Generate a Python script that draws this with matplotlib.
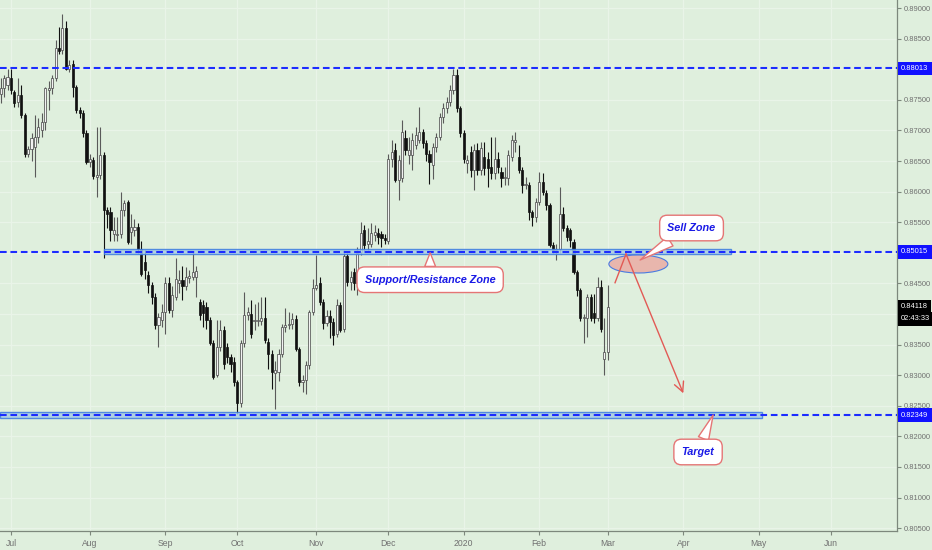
import matplotlib
matplotlib.use('Agg')
import matplotlib.pyplot as plt
import matplotlib.transforms as mtransforms
from matplotlib.patches import Rectangle, Ellipse
from matplotlib.ticker import MultipleLocator, FuncFormatter
import numpy as np
import pandas as pd

# daily candles, 26 Jun 2019 -> 2 Mar 2020 (weekdays)
opens = [0.8760, 0.8769, 0.8775, 0.8786, 0.8763, 0.8747, 0.8758, 0.8725, 0.8662, 0.8670,
         0.8673, 0.8690, 0.8700, 0.8714, 0.8766, 0.8769, 0.8785, 0.8834, 0.8831, 0.8867,
         0.8801, 0.8809, 0.8771, 0.8733, 0.8728, 0.8695, 0.8649, 0.8652, 0.8624, 0.8627,
         0.8660, 0.8570, 0.8567, 0.8531, 0.8529, 0.8531, 0.8570, 0.8583, 0.8534, 0.8537,
         0.8542, 0.8507, 0.8485, 0.8464, 0.8447, 0.8428, 0.8382, 0.8390, 0.8404, 0.8450,
         0.8406, 0.8428, 0.8450, 0.8456, 0.8445, 0.8459, 0.8461, 0.8461, 0.8420, 0.8415,
         0.8412, 0.8390, 0.8352, 0.8300, 0.8346, 0.8374, 0.8346, 0.8330, 0.8321, 0.8289,
         0.8254, 0.8352, 0.8398, 0.8400, 0.8388, 0.8389, 0.8388, 0.8394, 0.8355, 0.8335,
         0.8303, 0.8305, 0.8335, 0.8379, 0.8382, 0.8384, 0.8392, 0.8343, 0.8289, 0.8292,
         0.8317, 0.8404, 0.8442, 0.8450, 0.8420, 0.8385, 0.8396, 0.8387, 0.8368, 0.8415,
         0.8376, 0.8494, 0.8453, 0.8469, 0.8450, 0.8502, 0.8537, 0.8515, 0.8515, 0.8529,
         0.8532, 0.8530, 0.8524, 0.8520, 0.8654, 0.8668, 0.8619, 0.8622, 0.8687, 0.8660,
         0.8660, 0.8676, 0.8684, 0.8698, 0.8679, 0.8662, 0.8644, 0.8673, 0.8690, 0.8722,
         0.8736, 0.8747, 0.8766, 0.8790, 0.8736, 0.8695, 0.8646, 0.8665, 0.8635, 0.8668,
         0.8635, 0.8657, 0.8654, 0.8641, 0.8630, 0.8654, 0.8632, 0.8622, 0.8622, 0.8657,
         0.8681, 0.8657, 0.8635, 0.8611, 0.8611, 0.8567, 0.8559, 0.8583, 0.8616, 0.8597,
         0.8578, 0.8513, 0.8504, 0.8507, 0.8564, 0.8540, 0.8537, 0.8518, 0.8469, 0.8439,
         0.8393, 0.8393, 0.8428, 0.8401, 0.8393, 0.8444, 0.8327, 0.8338]
highs = [0.8785, 0.8790, 0.8801, 0.8801, 0.8766, 0.8786, 0.8774, 0.8728, 0.8675, 0.8695,
         0.8725, 0.8720, 0.8728, 0.8771, 0.8780, 0.8790, 0.8848, 0.8869, 0.8891, 0.8878,
         0.8815, 0.8815, 0.8774, 0.8739, 0.8733, 0.8700, 0.8662, 0.8657, 0.8706, 0.8706,
         0.8665, 0.8575, 0.8575, 0.8559, 0.8559, 0.8600, 0.8586, 0.8586, 0.8564, 0.8556,
         0.8548, 0.8520, 0.8505, 0.8470, 0.8453, 0.8434, 0.8401, 0.8417, 0.8461, 0.8461,
         0.8445, 0.8491, 0.8472, 0.8478, 0.8477, 0.8472, 0.8502, 0.8478, 0.8425, 0.8423,
         0.8420, 0.8395, 0.8357, 0.8390, 0.8390, 0.8380, 0.8352, 0.8335, 0.8330, 0.8292,
         0.8357, 0.8436, 0.8412, 0.8423, 0.8417, 0.8420, 0.8428, 0.8428, 0.8360, 0.8341,
         0.8324, 0.8343, 0.8384, 0.8410, 0.8403, 0.8401, 0.8399, 0.8346, 0.8300, 0.8324,
         0.8406, 0.8458, 0.8496, 0.8460, 0.8425, 0.8406, 0.8406, 0.8393, 0.8425, 0.8420,
         0.8505, 0.8500, 0.8470, 0.8475, 0.8510, 0.8551, 0.8545, 0.8540, 0.8548, 0.8545,
         0.8540, 0.8535, 0.8530, 0.8662, 0.8684, 0.8680, 0.8660, 0.8717, 0.8700, 0.8690,
         0.8695, 0.8706, 0.8739, 0.8703, 0.8684, 0.8668, 0.8680, 0.8695, 0.8728, 0.8745,
         0.8755, 0.8775, 0.8801, 0.8801, 0.8740, 0.8700, 0.8660, 0.8675, 0.8678, 0.8680,
         0.8681, 0.8681, 0.8665, 0.8690, 0.8690, 0.8665, 0.8640, 0.8640, 0.8668, 0.8692,
         0.8698, 0.8676, 0.8640, 0.8624, 0.8615, 0.8570, 0.8590, 0.8632, 0.8630, 0.8602,
         0.8582, 0.8518, 0.8515, 0.8608, 0.8575, 0.8545, 0.8540, 0.8522, 0.8472, 0.8442,
         0.8400, 0.8433, 0.8433, 0.8433, 0.8461, 0.8455, 0.8393, 0.8447]
lows = [0.8744, 0.8755, 0.8766, 0.8760, 0.8739, 0.8739, 0.8720, 0.8657, 0.8657, 0.8650,
        0.8624, 0.8680, 0.8690, 0.8700, 0.8733, 0.8760, 0.8780, 0.8825, 0.8825, 0.8798,
        0.8795, 0.8755, 0.8728, 0.8720, 0.8690, 0.8645, 0.8640, 0.8620, 0.8591, 0.8620,
        0.8491, 0.8540, 0.8520, 0.8520, 0.8520, 0.8525, 0.8560, 0.8515, 0.8515, 0.8527,
        0.8500, 0.8462, 0.8458, 0.8434, 0.8417, 0.8376, 0.8346, 0.8379, 0.8368, 0.8401,
        0.8395, 0.8423, 0.8434, 0.8423, 0.8439, 0.8450, 0.8456, 0.8428, 0.8390, 0.8379,
        0.8376, 0.8349, 0.8294, 0.8297, 0.8340, 0.8310, 0.8320, 0.8305, 0.8283, 0.8237,
        0.8248, 0.8346, 0.8390, 0.8360, 0.8374, 0.8380, 0.8382, 0.8352, 0.8310, 0.8278,
        0.8245, 0.8290, 0.8330, 0.8370, 0.8376, 0.8376, 0.8340, 0.8283, 0.8273, 0.8270,
        0.8310, 0.8398, 0.8439, 0.8415, 0.8376, 0.8380, 0.8360, 0.8349, 0.8362, 0.8370,
        0.8370, 0.8445, 0.8440, 0.8439, 0.8431, 0.8497, 0.8504, 0.8505, 0.8510, 0.8520,
        0.8515, 0.8510, 0.8515, 0.8515, 0.8640, 0.8615, 0.8586, 0.8615, 0.8660, 0.8645,
        0.8635, 0.8670, 0.8680, 0.8672, 0.8650, 0.8613, 0.8620, 0.8665, 0.8684, 0.8712,
        0.8728, 0.8740, 0.8760, 0.8730, 0.8690, 0.8646, 0.8630, 0.8624, 0.8602, 0.8627,
        0.8627, 0.8627, 0.8608, 0.8620, 0.8620, 0.8630, 0.8608, 0.8610, 0.8611, 0.8650,
        0.8665, 0.8630, 0.8597, 0.8605, 0.8553, 0.8543, 0.8550, 0.8578, 0.8595, 0.8570,
        0.8510, 0.8499, 0.8488, 0.8500, 0.8535, 0.8520, 0.8510, 0.8465, 0.8430, 0.8388,
        0.8352, 0.8363, 0.8388, 0.8385, 0.8388, 0.8370, 0.8300, 0.8325]
closes = [0.8769, 0.8785, 0.8788, 0.8766, 0.8744, 0.8758, 0.8725, 0.8661, 0.8670, 0.8687,
          0.8690, 0.8706, 0.8714, 0.8769, 0.8769, 0.8785, 0.8834, 0.8829, 0.8867, 0.8801,
          0.8807, 0.8771, 0.8733, 0.8728, 0.8695, 0.8649, 0.8654, 0.8625, 0.8627, 0.8660,
          0.8570, 0.8564, 0.8537, 0.8537, 0.8531, 0.8570, 0.8581, 0.8518, 0.8542, 0.8542,
          0.8507, 0.8466, 0.8472, 0.8447, 0.8428, 0.8382, 0.8395, 0.8404, 0.8450, 0.8406,
          0.8431, 0.8458, 0.8456, 0.8445, 0.8461, 0.8462, 0.8469, 0.8470, 0.8398, 0.8401,
          0.8390, 0.8352, 0.8297, 0.8346, 0.8374, 0.8319, 0.8330, 0.8319, 0.8289, 0.8254,
          0.8352, 0.8398, 0.8404, 0.8368, 0.8390, 0.8391, 0.8394, 0.8357, 0.8335, 0.8305,
          0.8308, 0.8335, 0.8379, 0.8382, 0.8384, 0.8392, 0.8343, 0.8289, 0.8292, 0.8317,
          0.8404, 0.8442, 0.8447, 0.8420, 0.8385, 0.8396, 0.8387, 0.8366, 0.8415, 0.8374,
          0.8494, 0.8453, 0.8461, 0.8450, 0.8500, 0.8532, 0.8513, 0.8520, 0.8532, 0.8534,
          0.8526, 0.8524, 0.8521, 0.8654, 0.8665, 0.8619, 0.8651, 0.8698, 0.8668, 0.8668,
          0.8684, 0.8692, 0.8698, 0.8679, 0.8662, 0.8649, 0.8673, 0.8690, 0.8722, 0.8736,
          0.8747, 0.8766, 0.8790, 0.8736, 0.8695, 0.8654, 0.8651, 0.8635, 0.8668, 0.8635,
          0.8671, 0.8638, 0.8638, 0.8630, 0.8654, 0.8641, 0.8622, 0.8624, 0.8660, 0.8684,
          0.8684, 0.8635, 0.8611, 0.8613, 0.8567, 0.8559, 0.8583, 0.8616, 0.8600, 0.8578,
          0.8513, 0.8504, 0.8507, 0.8564, 0.8540, 0.8526, 0.8521, 0.8469, 0.8439, 0.8393,
          0.8395, 0.8428, 0.8393, 0.8393, 0.8444, 0.8376, 0.8338, 0.84118]

month_labels = ['Jul', 'Aug', 'Sep', 'Oct', 'Nov', 'Dec', '2020', 'Feb', 'Mar', 'Apr', 'May', 'Jun']
levels = [0.88013, 0.85015, 0.82349]
last_price = 0.84118
countdown = '02:43:33'

bg = '#dfefdd'
blue = '#1c2cff'
red = '#e25a55'
font = 'Liberation Sans'

# bar index for each weekday, used for month ticks (chart runs on into the future)
days = pd.bdate_range('2019-06-26', '2020-06-30')
days = days[days != pd.Timestamp('2020-01-01')]
month_pos = [i for i in range(1, len(days)) if days[i].month != days[i - 1].month]

fig = plt.figure(figsize=(9.32, 5.5), dpi=100, facecolor=bg)
ax = fig.add_axes([0, 1 - 531 / 550, 897 / 932, 531 / 550])
ax.set_facecolor(bg)
ax.set_xlim(-0.2, 261.3)
ax.set_ylim(0.80454, 0.89131)

for s in ['left', 'top']:
    ax.spines[s].set_visible(False)
for s in ['right', 'bottom']:
    ax.spines[s].set_color('#7d887c')
    ax.spines[s].set_linewidth(0.9)

# price scale: labels hidden under the price boxes are left out
covered = [0.880, 0.850, 0.840]


def price_fmt(v, pos):
    if any(abs(v - cv) < 1e-6 for cv in covered):
        return ''
    return f'{v:.5f}'


ax.yaxis.tick_right()
ax.yaxis.set_major_locator(MultipleLocator(0.005))
ax.yaxis.set_major_formatter(FuncFormatter(price_fmt))
ax.set_xticks(month_pos)
ax.set_xticklabels(month_labels)
ax.tick_params(axis='y', labelsize=5.4, colors='#7d887c', labelcolor='#707070',
               length=3, width=0.8, pad=1.8)
ax.tick_params(axis='x', labelsize=6.2, colors='#7d887c', labelcolor='#707070',
               length=3, width=0.8, pad=2.5)
for lab in ax.get_xticklabels() + ax.get_yticklabels():
    lab.set_family(font)
ax.grid(True, color='#e9f4e8', lw=0.9)
ax.set_axisbelow(True)

# candles
o = np.array(opens)
h = np.array(highs)
l = np.array(lows)
c = np.array(closes)
x = np.arange(len(c))
up = c >= o
ax.vlines(x, l, h, colors=np.where(up, '#5a5a5a', '#111111'), lw=0.8, zorder=3)
body = np.maximum(np.abs(c - o), 0.00004)
ax.bar(x, body, bottom=np.minimum(o, c), width=0.62,
       color=np.where(up, '#f2f2f2', '#111111'),
       edgecolor=np.where(up, '#444444', '#111111'), lw=0.5, zorder=4)

# zones
ax.add_patch(Rectangle((30, 0.8498), 183, 0.00077, fc='#a8cde4', ec='#3c7be0',
                       lw=1, alpha=0.85, zorder=5))
ax.add_patch(Rectangle((-0.2, 0.82305), 222, 0.00088, fc='#a8cde4', ec='#3c7be0',
                       lw=1, alpha=0.85, zorder=5))
for lv in levels:
    ax.axhline(lv, color=blue, lw=1.5, ls=(0, (3.2, 1.8)), zorder=6)

# sell zone ellipse and arrows
ax.add_patch(Ellipse((185.9, 0.84817), 17.2, 0.00294, fc='#e8b6ad', ec='#4a7be0',
                     lw=0.8, zorder=7))
ax.plot([179.1, 182.3], [0.84511, 0.8498], color=red, lw=1, zorder=8)
ax.annotate('', xy=(199.0, 0.82704), xytext=(182.3, 0.8498),
            arrowprops=dict(arrowstyle='->,head_length=0.7,head_width=0.35',
                            color=red, lw=1, shrinkA=0, shrinkB=0), zorder=8)


def callout(text, xy, xytext):
    ax.annotate(text, xy=xy, xytext=xytext, ha='center', va='center',
                color='#1a1ae6', fontsize=7.8, fontweight='bold', fontstyle='italic',
                family=font,
                bbox=dict(boxstyle='round,pad=0.72,rounding_size=0.7', fc='white',
                          ec='#e57575', lw=1),
                arrowprops=dict(arrowstyle='wedge,tail_width=1.0,shrink_factor=0.5',
                                fc='white', ec='#e57575', lw=1, shrinkA=0, shrinkB=0),
                zorder=9)


callout('Sell Zone', (186.4, 0.84882), (201.4, 0.85405))
callout('Support/Resistance Zone', (125.2, 0.8500), (125.2, 0.8456))
callout('Target', (207.7, 0.8235), (203.3, 0.81745))

# price labels on the right scale
trans = mtransforms.blended_transform_factory(ax.transAxes, ax.transData)
for lv in levels:
    ax.text(1.0045, lv, f'{lv:.5f}', transform=trans, ha='left', va='center',
            fontsize=5.4, color='white', family=font, clip_on=False, zorder=10,
            bbox=dict(boxstyle='square,pad=0.45', fc='#1111ff', ec='none'))
ax.text(1.0045, last_price, f'{last_price:.5f}', transform=trans, ha='left', va='center',
        fontsize=5.4, color='white', family=font, clip_on=False, zorder=10,
        bbox=dict(boxstyle='square,pad=0.45', fc='black', ec='none'))
ax.annotate(countdown, xy=(1.0045, last_price), xycoords=trans, xytext=(0, -8.6),
            textcoords='offset points', ha='left', va='center', fontsize=5.4,
            color='white', family=font, annotation_clip=False, zorder=10,
            bbox=dict(boxstyle='square,pad=0.45', fc='black', ec='none'))

fig.savefig('out.png', dpi=100, facecolor=bg)
